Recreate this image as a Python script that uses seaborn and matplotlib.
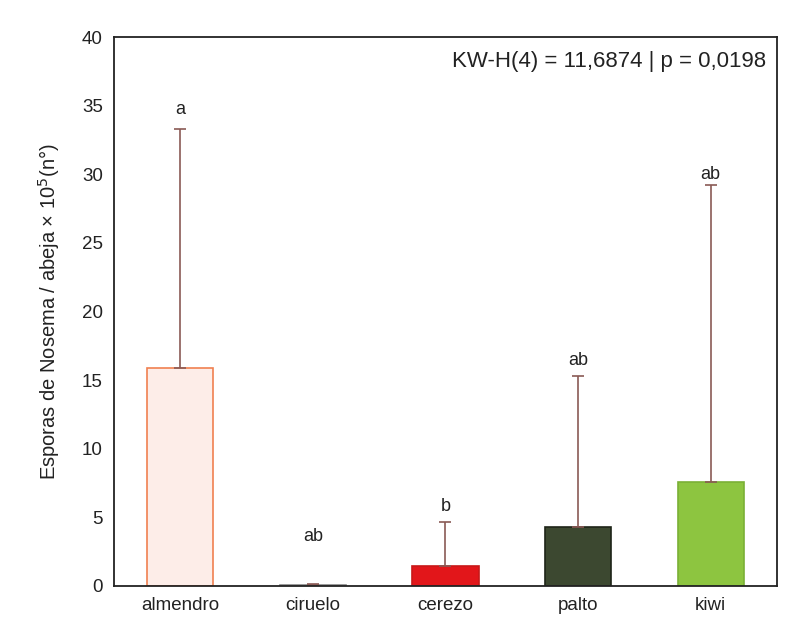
import matplotlib
matplotlib.use("Agg")
import matplotlib.pyplot as plt
import seaborn as sns
import pandas as pd
import numpy as np

categories = ["almendro", "ciruelo", "cerezo", "palto", "kiwi"]
means = [15.9, 0.08, 1.45, 4.3, 7.6]
upper_err = [17.4, 0.07, 3.2, 11.0, 21.6]
letters = ["a", "ab", "b", "ab", "ab"]
letter_y = [34.7, 3.6, 5.8, 16.4, 30.0]
fills = ["#FDEDE8", "#E8D0C8", "#E2161A", "#3C4830", "#8DC540"]
edges = ["#F08050", "#888888", "#C81818", "#1E2418", "#7AB036"]

sns.set_style("white")
plt.rcParams['font.family'] = ['Liberation Sans', 'DejaVu Sans']

fig = plt.figure(figsize=(8.05, 6.35), dpi=100)
ax = fig.add_axes([0.1416, 0.0772, 0.8236, 0.8645])

df = pd.DataFrame({"cat": categories, "val": means})
sns.barplot(data=df, x="cat", y="val", hue="cat", palette=fills, width=0.5,
            saturation=1, legend=False, ax=ax, errorbar=None)
for p, ec in zip(ax.patches, edges):
    p.set_edgecolor(ec)
    p.set_linewidth(1.2)

x = np.arange(len(categories))
ax.errorbar(x, means, yerr=[np.zeros(len(means)), upper_err], fmt="none",
            ecolor="#8A5A55", elinewidth=1.2, capsize=4, capthick=1.2)
for xi, t, ly in zip(x, letters, letter_y):
    ax.text(xi, ly, t, ha="center", va="center", fontsize=13, color="#222222")

ax.text(0.983, 0.955, "KW-H(4) = 11,6874 | p = 0,0198", transform=ax.transAxes,
        ha="right", va="center", fontsize=16, color="#222222")

ax.set_ylim(0, 40)
ax.set_xlim(-0.5, 4.5)
ax.set_yticks(range(0, 41, 5))
ax.set_xlabel("")
ax.set_ylabel("Esporas de Nosema / abeja × 10$^5$(n°)", fontsize=14.5, color="#222222",
              labelpad=14)
ax.tick_params(axis="both", labelsize=13.5, colors="#222222", length=0, pad=8)
for s in ax.spines.values():
    s.set_color("#222222")
    s.set_linewidth(1.3)

fig.savefig("out.png", dpi=100, facecolor="white")
